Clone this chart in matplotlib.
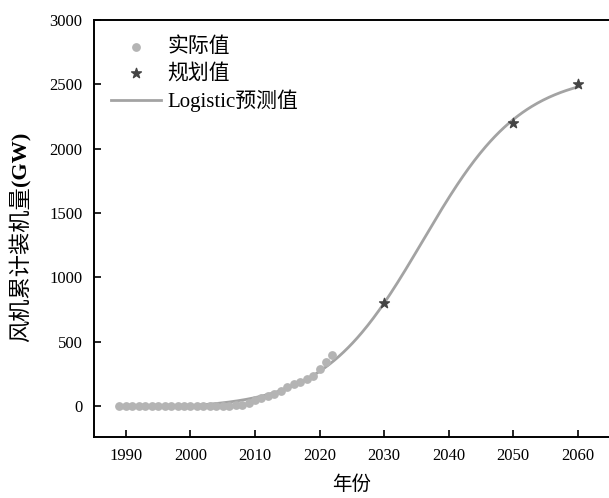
import matplotlib.pyplot as plt
import numpy as np

# 字体：西文用 Times 类衬线体，中文回退到思源黑体
plt.rcParams['font.family'] = ['Liberation Serif', 'Noto Sans CJK SC']

# 历史累计装机量（GW）
actual_years = np.arange(1989, 2023)
actual_values = [0.0, 0.0, 0.0, 0.0, 0.0, 0.0, 0.0, 0.1, 0.2, 0.2,
                 0.3, 0.3, 0.4, 0.5, 0.6, 0.8, 1.3, 2.6, 5.9, 12.2,
                 25.8, 44.7, 62.4, 75.3, 91.4, 114.6, 145.4, 168.7, 188.4, 209.5,
                 236.0, 285.0, 345.0, 395.0]

# 规划目标（GW）
plan_years = [2030, 2050, 2060]
plan_values = [800, 2200, 2500]

# Logistic 模型参数：y = c + K / (1 + exp(-r (t - t0)))
K = 2610.0
r = 0.13
t0 = 2036.0
c = -20.0
fit_start, fit_end = 1989, 2060

t = np.linspace(fit_start, fit_end, 400)
y_fit = c + K / (1 + np.exp(-r * (t - t0)))

fig = plt.figure(figsize=(6.09, 4.98), dpi=100)
ax = fig.add_axes([0.1538, 0.1225, 0.8478, 0.8373])

ax.scatter(actual_years, actual_values, s=28, color='#b4b4b4', zorder=3, label='实际值')
ax.scatter(plan_years, plan_values, s=55, marker='*', color='#444444', zorder=4, label='规划值')
ax.plot(t, y_fit, color='#a3a3a3', lw=2.0, zorder=2, label='Logistic预测值')

ax.set_xlim(1985, 2065)
ax.set_ylim(-240, 3000)
ax.set_xticks(range(1990, 2061, 10))
ax.set_yticks(range(0, 3001, 500))
ax.tick_params(direction='in', length=5, width=1.2, labelsize=12, pad=8)
ax.spines['right'].set_visible(False)
for s in ['left', 'bottom', 'top']:
    ax.spines[s].set_linewidth(1.4)

ax.set_xlabel('年份', fontsize=14, labelpad=8)

# y 轴标题：中文常规 + (GW) 加粗
ax.set_ylabel('风机累计装机量', fontsize=16)
ax.yaxis.set_label_coords(-0.12, 0.415)
ax.annotate('(GW)', xy=(0.5, 1.0), xycoords=ax.yaxis.label, rotation=90,
            ha='center', va='bottom', fontsize=16, fontweight='bold')

ax.legend(loc='upper left', frameon=False, fontsize=15, handlelength=2.4,
          handletextpad=0.3, borderaxespad=0.45, labelspacing=0.3,
          bbox_to_anchor=(0.0, 1.0))

plt.savefig('out.png', dpi=100)
